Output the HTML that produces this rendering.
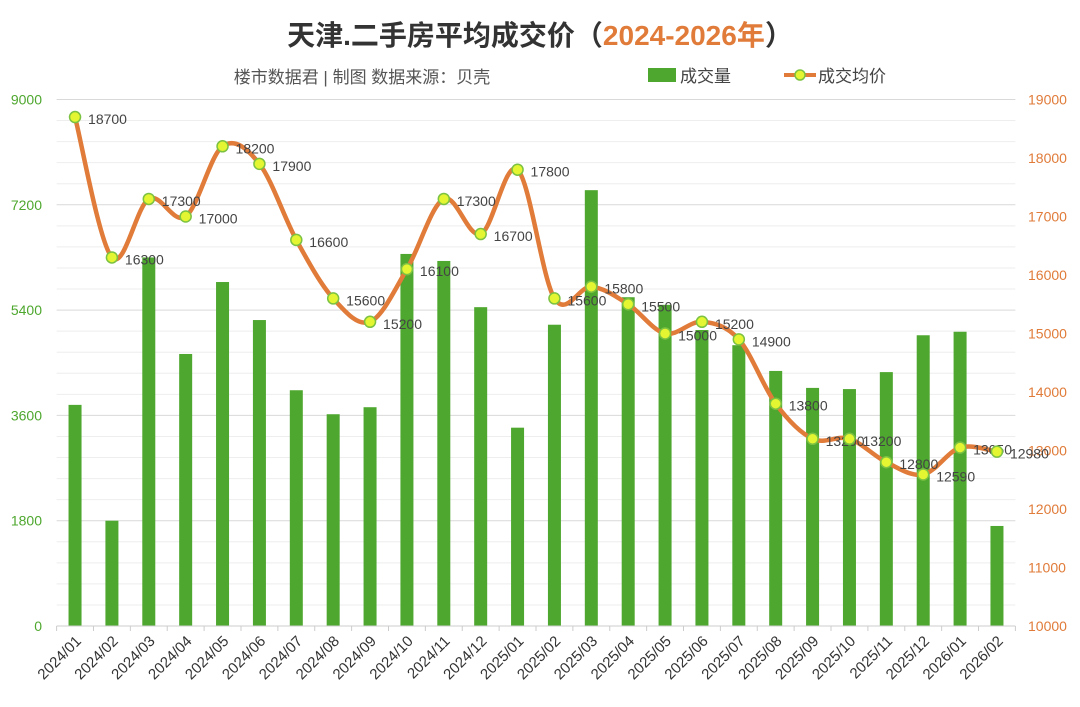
<!DOCTYPE html>
<html><head><meta charset="utf-8"><style>
body{margin:0;background:#fff;}
svg{display:block;font-family:"Liberation Sans","Noto Sans CJK SC",sans-serif;}
</style></head><body>
<svg id="chart" width="1080" height="707">
<text x="540" y="45" text-anchor="middle" font-size="28" font-weight="bold" fill="#333">天津.二手房平均成交价（<tspan fill="#e07b39">2024-2026年</tspan>）</text>
<text x="362" y="83" text-anchor="middle" font-size="17" fill="#555">楼市数据君 | 制图  数据来源：贝壳</text>
<g>
<rect x="648" y="68" width="28" height="14" fill="#4ea72e"/>
<text x="680" y="82" font-size="17" fill="#444">成交量</text>
<line x1="784" y1="75" x2="816" y2="75" stroke="#e07b39" stroke-width="4"/>
<circle cx="800" cy="75" r="5" fill="#e4f531" stroke="#7cc242" stroke-width="1.5"/>
<text x="818" y="82" font-size="17" fill="#444">成交均价</text>
</g>
<g id="grid"></g><g id="bars"></g><g id="axes"></g><g id="line"></g>
</svg>
<script>
const categories=["2024/01","2024/02","2024/03","2024/04","2024/05","2024/06","2024/07","2024/08","2024/09","2024/10","2024/11","2024/12","2025/01","2025/02","2025/03","2025/04","2025/05","2025/06","2025/07","2025/08","2025/09","2025/10","2025/11","2025/12","2026/01","2026/02"];
const volumes=[3780,1800,6300,4650,5880,5230,4030,3620,3740,6360,6240,5450,3390,5150,7450,5620,5490,5060,4800,4360,4070,4050,4340,4970,5030,1710];
const prices=[18700,16300,17300,17000,18200,17900,16600,15600,15200,16100,17300,16700,17800,15600,15800,15500,15000,15200,14900,13800,13200,13200,12800,12590,13050,12980];
const leftTicks=[0,1800,3600,5400,7200,9000];
const rightTicks=[10000,11000,12000,13000,14000,15000,16000,17000,18000,19000];
const NS="http://www.w3.org/2000/svg";
const X0=56.6,X1=1015.4,Y0=626,YT=99.5;
const step=(X1-X0)/categories.length;
const xs=i=>X0+step*(i+0.5);
const yL=v=>Y0-(v/9000)*(Y0-YT);
const yR=v=>Y0-((v-10000)/9000)*(Y0-YT);
function mk(tag,attrs,parent){const e=document.createElementNS(NS,tag);for(const k in attrs)e.setAttribute(k,attrs[k]);parent.appendChild(e);return e;}
const grid=document.getElementById('grid'),bars=document.getElementById('bars'),axes=document.getElementById('axes'),line=document.getElementById('line');
for(let k=1;k<=25;k++){const y=yL(k*360);const g=mk('line',{x1:X0,x2:X1,y1:y,y2:y,stroke:k%5==0?'#d9d9d9':'#eeeeee','stroke-width':1},grid);

}
leftTicks.forEach(v=>{const t=mk('text',{x:42,y:yL(v)+5,'text-anchor':'end','font-size':14,fill:'#4ea72e'},axes);t.textContent=v;

});
rightTicks.forEach(v=>{const t=mk('text',{x:1028,y:yR(v)+5,'font-size':14,fill:'#e07b39'},axes);t.textContent=v;

});
const ax=mk('line',{x1:X0,x2:X1,y1:Y0,y2:Y0,stroke:'#cccccc','stroke-width':1},axes);


for(let i=0;i<=categories.length;i++){const x=X0+step*i;const tk=mk('line',{x1:x,x2:x,y1:Y0,y2:Y0+5,stroke:'#cccccc'},axes);

}
categories.forEach((c,i)=>{const x=xs(i)+7,y=Y0+16;const t=mk('text',{x:x,y:y,'text-anchor':'end','font-size':15,fill:'#333',transform:`rotate(-45 ${x} ${y})`},axes);t.textContent=c;

});
volumes.forEach((v,i)=>{const b=mk('rect',{x:xs(i)-6.5,y:yL(v),width:13,height:Y0-yL(v),fill:'#4ea72e'},bars);

});
const pts=prices.map((v,i)=>[xs(i),yR(v)]);
let d=`M${pts[0][0]},${pts[0][1]}`;
for(let i=0;i<pts.length-1;i++){const p0=pts[i-1]||pts[i],p1=pts[i],p2=pts[i+1],p3=pts[i+2]||p2;const t=6;
d+=` C${p1[0]+(p2[0]-p0[0])/t},${p1[1]+(p2[1]-p0[1])/t} ${p2[0]-(p3[0]-p1[0])/t},${p2[1]-(p3[1]-p1[1])/t} ${p2[0]},${p2[1]}`;}
const path=mk('path',{d:d,fill:'none',stroke:'#e07b39','stroke-width':4.5,'stroke-linejoin':'round'},line);


pts.forEach((p,i)=>{const c=mk('circle',{cx:p[0],cy:p[1],r:5.5,fill:'#e4f531',stroke:'#7cc242','stroke-width':1.5},line);


const t=mk('text',{x:p[0]+13,y:p[1]+7,'font-size':14,fill:'#444'},line);t.textContent=prices[i];

});
</script>
</body></html>
